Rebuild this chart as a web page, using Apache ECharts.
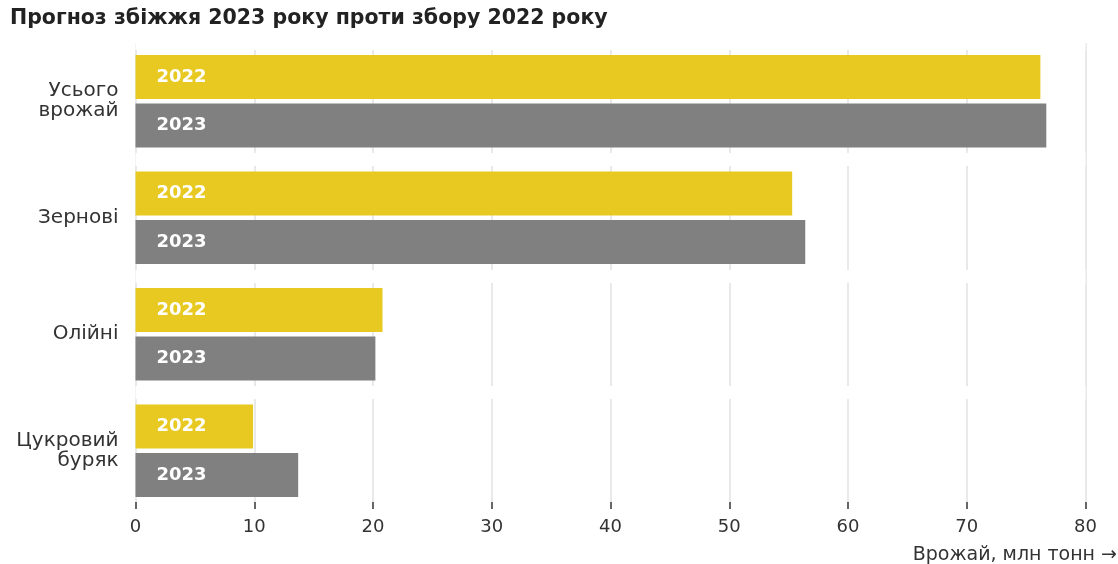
<!DOCTYPE html>
<html>
<head>
<meta charset="utf-8">
<script src="https://cdn.jsdelivr.net/npm/echarts@6/dist/echarts.min.js"></script>
<style>
  html, body { margin: 0; padding: 0; background: #fff; }
  #chart { width: 1118px; height: 564px; }
</style>
</head>
<body>
<div id="chart"></div>
<script>
// Crop categories (top to bottom) and harvest, million tonnes
const categories = ['Усього\nврожай', 'Зернові', 'Олійні', 'Цукровий\nбуряк'];
const harvest2022 = [76.2, 55.3, 20.8, 9.9];
const harvest2023 = [76.7, 56.4, 20.2, 13.7];
const seriesNames = ['2022', '2023'];
const xTicks = { min: 0, max: 80, step: 10 };

const chartTitle = 'Прогноз збіжжя 2023 року проти збору 2022 року';
const axisTitle = 'Врожай, млн тонн →';

const FONT = 'DejaVu Sans';
const YELLOW = '#e8c922';
const GREY = '#808080';

const chart = echarts.init(document.getElementById('chart'), null, { renderer: 'canvas' });

function barSeries(name, values, color) {
  return {
    name: name,
    type: 'bar',
    data: values,
    barWidth: 44,
    barGap: '10%',
    itemStyle: { color: color },
    label: {
      show: true,
      position: 'insideLeft',
      distance: 21,
      formatter: '{a}',
      color: '#fff',
      fontFamily: FONT,
      fontWeight: 'bold',
      fontSize: 18
    },
    silent: true
  };
}

chart.setOption({
  animation: false,
  backgroundColor: '#fff',
  title: [
    {
      text: chartTitle,
      left: 5,
      top: 3,
      textStyle: { fontFamily: FONT, fontWeight: 'bold', fontSize: 20.5, color: '#222' }
    },
    {
      text: axisTitle,
      right: 1,
      top: 546,
      padding: 0,
      textStyle: { fontFamily: FONT, fontWeight: 'normal', fontSize: 19, color: '#333' }
    }
  ],
  grid: { left: 135.5, right: 32.5, top: 43, bottom: 55, containLabel: false },
  xAxis: [
    {
      type: 'value',
      position: 'bottom',
      min: xTicks.min, max: xTicks.max, interval: xTicks.step,
      axisLine: { show: false },
      axisTick: { show: false },
      axisLabel: { show: false },
      splitLine: { show: true, lineStyle: { color: '#e9e9e9', width: 2 } }
    },
    {
      type: 'value',
      position: 'bottom',
      min: xTicks.min, max: xTicks.max, interval: xTicks.step,
      z: 3,
      axisLine: { show: false },
      axisTick: { show: true, inside: true, length: 7, lineStyle: { color: '#666', width: 2 } },
      axisLabel: { show: true, margin: 9, fontFamily: FONT, fontSize: 18, color: '#333' },
      splitLine: { show: false }
    }
  ],
  yAxis: {
    type: 'category',
    inverse: true,
    data: categories,
    z: 1,
    axisLine: { show: false },
    axisTick: { show: false },
    axisLabel: {
      margin: 17,
      fontFamily: FONT,
      fontSize: 20,
      lineHeight: 20,
      color: '#333',
      align: 'right'
    },
    // white band separators break the vertical gridlines between groups
    splitLine: { show: true, lineStyle: { color: '#fff', width: 13 } }
  },
  series: [
    barSeries(seriesNames[0], harvest2022, YELLOW),
    barSeries(seriesNames[1], harvest2023, GREY)
  ]
});
</script>
</body>
</html>
